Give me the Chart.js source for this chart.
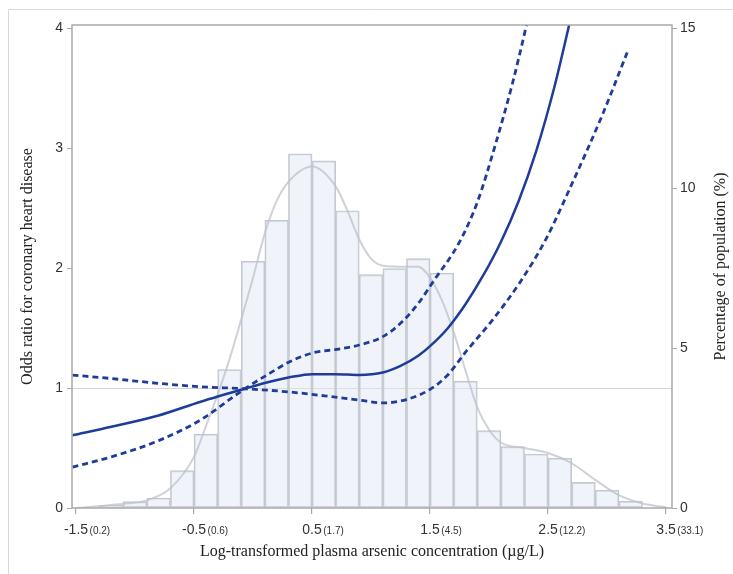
<!DOCTYPE html>
<html>
<head>
<meta charset="utf-8">
<script src="https://cdn.jsdelivr.net/npm/chart.js@4"></script>
<style>
  html, body { margin: 0; padding: 0; background: #fff; }
</style>
</head>
<body>
<canvas id="chart" width="733" height="574"></canvas>
<script>
// Histogram: bin centres (0.2 wide bins) and percentage of population
const binCenters = [-1.4, -1.2, -1.0, -0.8, -0.6, -0.4, -0.2, 0.0, 0.2, 0.4, 0.6, 0.8, 1.0,
  1.2, 1.4, 1.6, 1.8, 2.0, 2.2, 2.4, 2.6, 2.8, 3.0, 3.2, 3.4];
const binPercent = [0.02, 0.08, 0.2, 0.31, 1.17, 2.31, 4.33, 7.72, 9.0, 11.08, 10.86, 9.3, 7.3,
  7.49, 7.8, 7.35, 3.97, 2.42, 1.92, 1.69, 1.56, 0.8, 0.56, 0.21, 0.0];

// Density outline drawn over the histogram
const densityX = [-1.5, -1.3, -1.1, -0.9, -0.7, -0.5, -0.4, -0.3, -0.2, -0.1, 0.0, 0.1, 0.2, 0.3,
  0.5, 0.7, 0.8, 0.9, 1.0, 1.1, 1.3, 1.4, 1.5, 1.6, 1.7, 1.8, 1.9, 2.0, 2.1, 2.3, 2.5, 2.7,
  2.9, 3.1, 3.3, 3.5];
const densityPct = [0.0, 0.06, 0.13, 0.24, 0.62, 1.6, 2.55, 3.55, 4.65, 5.9, 7.2, 8.6, 9.6, 10.2,
  10.68, 10.06, 9.3, 8.4, 7.8, 7.58, 7.55, 7.55, 7.2, 6.5, 5.5, 4.3, 3.15, 2.45, 2.05, 1.88,
  1.72, 1.4, 0.88, 0.4, 0.14, 0.02];

// Odds ratio spline
const orX = [-1.53, -1.2, -0.8, -0.45, -0.07, 0.15, 0.3, 0.5, 0.7, 0.9, 1.1, 1.25, 1.4, 1.5,
  1.65, 1.8, 1.95, 2.1, 2.25, 2.4, 2.55, 2.7];
const orY = [0.607, 0.678, 0.772, 0.885, 0.995, 1.055, 1.088, 1.117, 1.117, 1.11, 1.13, 1.185,
  1.27, 1.35, 1.5, 1.7, 1.94, 2.22, 2.56, 2.98, 3.5, 4.12];

// Confidence band, curve that starts high on the left (lower bound on the right)
const ciAX = [-1.53, -1.2, -0.8, -0.45, -0.07, 0.3, 0.68, 0.9, 1.1, 1.3, 1.5, 1.65, 1.8, 2.03,
  2.26, 2.48, 2.7, 2.96, 3.17];
const ciAY = [1.109, 1.08, 1.04, 1.012, 0.995, 0.969, 0.927, 0.9, 0.877, 0.905, 0.99, 1.11,
  1.3, 1.57, 1.88, 2.24, 2.7, 3.28, 3.8];

// Confidence band, curve that starts low on the left (upper bound on the right)
const ciBX = [-1.53, -1.2, -0.8, -0.45, -0.07, 0.14, 0.31, 0.51, 0.71, 0.9, 1.1, 1.27, 1.41,
  1.52, 1.75, 1.9, 2.05, 2.2, 2.31, 2.4];
const ciBY = [0.341, 0.427, 0.562, 0.732, 0.995, 1.123, 1.22, 1.295, 1.324, 1.36, 1.43, 1.56,
  1.72, 1.88, 2.22, 2.55, 3.02, 3.55, 4.0, 4.4];

const xTicks = [-1.5, -0.5, 0.5, 1.5, 2.5, 3.5];
const xTickOriginal = ['0.2', '0.6', '1.7', '4.5', '12.2', '33.1'];
const orTicks = [0, 1, 2, 3, 4];
const pctTicks = [0, 5, 10, 15];

const navy = '#1f3c99';
const axisGray = '#a9a9a9';

function pts(xs, ys) {
  return xs.map((x, i) => ({ x: x, y: ys[i] }));
}

// Extra drawing: outer frame, plot box, x tick labels with original units, right title
const decor = {
  id: 'decor',
  afterDraw(chart) {
    const ctx = chart.ctx;
    const a = chart.chartArea;
    const xs = chart.scales.x;
    ctx.save();

    ctx.strokeStyle = '#d9d9d9';
    ctx.lineWidth = 1;
    ctx.beginPath();
    ctx.moveTo(8.5, 574);
    ctx.lineTo(8.5, 9.5);
    ctx.lineTo(733, 9.5);
    ctx.stroke();

    ctx.strokeStyle = axisGray;
    ctx.lineWidth = 1.5;
    ctx.strokeRect(a.left, a.top, a.right - a.left, a.bottom - a.top);

    ctx.fillStyle = '#333';
    ctx.textBaseline = 'middle';
    xTicks.forEach((v, i) => {
      const px = xs.getPixelForValue(v);
      const main = String(v.toFixed(1));
      ctx.font = '14px "Liberation Sans"';
      const w = ctx.measureText(main).width;
      ctx.textAlign = 'center';
      ctx.fillText(main, px, a.bottom + 22);
      ctx.font = '10px "Liberation Sans"';
      ctx.textAlign = 'left';
      ctx.fillText('(' + xTickOriginal[i] + ')', px + w / 2 + 1.5, a.bottom + 23);
    });

    ctx.translate(721, (a.top + a.bottom) / 2);
    ctx.rotate(-Math.PI / 2);
    ctx.font = '16px "Liberation Serif"';
    ctx.fillStyle = '#222';
    ctx.textAlign = 'center';
    ctx.fillText('Percentage of population (%)', 0, 0);
    ctx.restore();
  }
};

new Chart(document.getElementById('chart'), {
  type: 'line',
  data: {
    datasets: [
      {
        type: 'line',
        data: pts(orX, orY),
        yAxisID: 'y',
        borderColor: navy,
        borderWidth: 2.5,
        pointRadius: 0,
        cubicInterpolationMode: 'monotone',
        order: 0
      },
      {
        type: 'line',
        data: pts(ciAX, ciAY),
        yAxisID: 'y',
        borderColor: navy,
        borderWidth: 2.8,
        borderDash: [6, 4],
        pointRadius: 0,
        cubicInterpolationMode: 'monotone',
        order: 1
      },
      {
        type: 'line',
        data: pts(ciBX, ciBY),
        yAxisID: 'y',
        borderColor: navy,
        borderWidth: 2.8,
        borderDash: [6, 4],
        pointRadius: 0,
        cubicInterpolationMode: 'monotone',
        order: 1
      },
      {
        type: 'line',
        data: pts(densityX, densityPct),
        yAxisID: 'y2',
        borderColor: 'rgba(190,194,204,0.75)',
        borderWidth: 2,
        pointRadius: 0,
        cubicInterpolationMode: 'monotone',
        order: 2
      },
      {
        type: 'bar',
        data: pts(binCenters, binPercent),
        yAxisID: 'y2',
        backgroundColor: 'rgba(226,234,245,0.5)',
        borderColor: '#c4c7ce',
        borderWidth: 1.2,
        borderSkipped: false,
        barPercentage: 1,
        categoryPercentage: 1,
        grouped: false,
        order: 3
      }
    ]
  },
  options: {
    responsive: false,
    animation: false,
    layout: { padding: { top: 25, left: 0, right: 0, bottom: 0 } },
    plugins: {
      legend: { display: false },
      tooltip: { enabled: false }
    },
    scales: {
      x: {
        type: 'linear',
        min: -1.534,
        max: 3.55,
        offset: false,
        afterBuildTicks: s => { s.ticks = xTicks.map(v => ({ value: v })); },
        afterFit: s => { s.height = 66; },
        ticks: { display: false },
        grid: { drawOnChartArea: false, offset: false, tickLength: 6, color: axisGray, lineWidth: 1.2 },
        border: { display: false },
        title: {
          display: true,
          text: 'Log-transformed plasma arsenic concentration (µg/L)',
          font: { family: 'Liberation Serif', size: 16 },
          color: '#222',
          padding: { top: 0, bottom: 13 }
        }
      },
      y: {
        position: 'left',
        min: 0,
        max: 4.03,
        afterBuildTicks: s => { s.ticks = orTicks.map(v => ({ value: v })); },
        afterFit: s => { s.width = 72; },
        ticks: { font: { family: 'Liberation Sans', size: 14 }, color: '#333', padding: 4 },
        grid: {
          color: c => (c.tick && c.tick.value === 1 ? '#d4d4d4' : 'rgba(0,0,0,0)'),
          tickColor: axisGray,
          tickLength: 5,
          lineWidth: 1
        },
        border: { display: false },
        title: {
          display: true,
          text: 'Odds ratio for coronary heart disease',
          font: { family: 'Liberation Serif', size: 16 },
          color: '#222',
          padding: { top: 18, bottom: 0 }
        }
      },
      y2: {
        position: 'right',
        min: 0,
        max: 15.11,
        afterBuildTicks: s => { s.ticks = pctTicks.map(v => ({ value: v })); },
        afterFit: s => { s.width = 61; },
        ticks: { font: { family: 'Liberation Sans', size: 14 }, color: '#333', padding: 3 },
        grid: { drawOnChartArea: false, color: axisGray, tickLength: 5 },
        border: { display: false }
      }
    }
  },
  plugins: [decor]
});
</script>
</body>
</html>
